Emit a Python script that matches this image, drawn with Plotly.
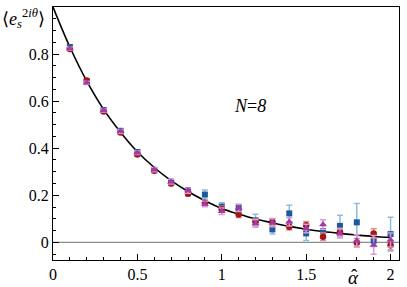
import plotly.graph_objects as go

alpha = [0.1, 0.2, 0.3, 0.4, 0.5, 0.6, 0.7, 0.8, 0.9, 1.0,
         1.1, 1.2, 1.3, 1.4, 1.5, 1.6, 1.7, 1.8, 1.9, 2.0]

blue_y = [0.830, 0.683, 0.562, 0.474, 0.384, 0.308, 0.257, 0.222, 0.203, 0.152,
          0.146, 0.094, 0.055, 0.123, 0.038, 0.048, 0.070, 0.085, 0.007, 0.035]
blue_err = [0.008, 0.008, 0.008, 0.008, 0.008, 0.008, 0.010, 0.010, 0.019, 0.016,
            0.016, 0.025, 0.020, 0.035, 0.030, 0.025, 0.045, 0.080, 0.025, 0.072]

red_y = [0.822, 0.688, 0.556, 0.467, 0.373, 0.304, 0.250, 0.207, 0.168, 0.141,
         0.118, 0.087, 0.087, 0.066, 0.073, 0.024, 0.044, -0.002, 0.038, -0.012]
red_err = [0.006, 0.006, 0.006, 0.007, 0.007, 0.008, 0.008, 0.009, 0.010, 0.012,
           0.012, 0.014, 0.014, 0.014, 0.016, 0.016, 0.016, 0.018, 0.020, 0.020]

purple_y = [0.823, 0.678, 0.560, 0.472, 0.381, 0.309, 0.258, 0.220, 0.163, 0.132,
            0.146, 0.080, 0.083, 0.087, 0.059, 0.076, 0.038, 0.007, -0.011, 0.010]
purple_err = [0.007, 0.007, 0.007, 0.008, 0.008, 0.009, 0.010, 0.011, 0.012, 0.014,
              0.015, 0.016, 0.017, 0.018, 0.018, 0.020, 0.020, 0.025, 0.040, 0.030]

curve_x = [0.0, 0.1, 0.2, 0.3, 0.4, 0.5, 0.6, 0.7, 0.8, 0.9, 1.0,
           1.1, 1.2, 1.3, 1.4, 1.5, 1.6, 1.7, 1.8, 1.9, 2.0]
curve_y = [1.0, 0.830, 0.685, 0.565, 0.468, 0.385, 0.318, 0.262, 0.216, 0.177, 0.144,
           0.120, 0.099, 0.083, 0.068, 0.056, 0.046, 0.038, 0.031, 0.025, 0.021]

x_ticks = [0, 0.5, 1, 1.5, 2]
x_labels = ["0", "0.5", "1", "1.5", "2"]
y_ticks = [0, 0.2, 0.4, 0.6, 0.8, 1]
y_labels = ["0", "0.2", "0.4", "0.6", "0.8", "1"]

FONT = "'Liberation Serif', 'DejaVu Serif', serif"

fig = go.Figure()

# zero line
fig.add_trace(go.Scatter(x=[0, 2.05], y=[0, 0], mode="lines",
                         line=dict(color="#8c8c8c", width=1.2),
                         showlegend=False, hoverinfo="skip"))

fig.add_trace(go.Scatter(x=curve_x, y=curve_y, mode="lines",
                         line=dict(color="black", width=1.6, shape="spline"),
                         showlegend=False))

def series(y, err, color, ecolor, symbol, size):
    return go.Scatter(x=alpha, y=y, mode="markers",
                      marker=dict(color=color, symbol=symbol, size=size,
                                  line=dict(width=0)),
                      error_y=dict(type="data", array=err, visible=True,
                                   color=ecolor, thickness=1.5, width=3),
                      showlegend=False)

fig.add_trace(series(blue_y, blue_err, "#1c5b9b", "#8fbbdc", "square", 6))
fig.add_trace(series(red_y, red_err, "#a31616", "#e08a8a", "circle", 6.5))
fig.add_trace(series(purple_y, purple_err, "#a23ba6", "#d79ad8", "triangle-up", 7))

axis_common = dict(showgrid=False, zeroline=False, showline=True, linecolor="black",
                   linewidth=1.2, mirror=True, ticks="inside", ticklen=6,
                   tickcolor="black", tickwidth=1, automargin=False,
                   tickfont=dict(family=FONT, size=16, color="black"))

fig.update_xaxes(range=[0, 2.05], tickvals=x_ticks, ticktext=x_labels,
                 minor=dict(dtick=0.1, ticks="inside", ticklen=3, tickcolor="black"),
                 **axis_common)
fig.update_yaxes(range=[-0.075, 1.0], tickvals=y_ticks, ticktext=y_labels,
                 minor=dict(dtick=0.05, ticks="inside", ticklen=3, tickcolor="black"),
                 **axis_common)

# x-axis label: alpha with hat
fig.add_annotation(x=1.78, y=0, xref="x", yref="paper", yshift=-5,
                   text="<i>α</i>", showarrow=False, yanchor="top",
                   font=dict(family=FONT, size=19, color="black"))
fig.add_annotation(x=1.785, y=0, xref="x", yref="paper", yshift=-3,
                   text="ˆ", showarrow=False, yanchor="top",
                   font=dict(family=FONT, size=19, color="black"))
fig.add_annotation(x=0.0, y=1.0, xref="paper", yref="paper", xshift=-53, yshift=3,
                   xanchor="left", yanchor="top",
                   text="⟨<i>e</i><sub><i>s</i></sub><sup>2<i>iθ</i></sup>⟩", showarrow=False,
                   font=dict(family=FONT, size=18, color="black"))
fig.add_annotation(x=1.17, y=0.58, xref="x", yref="y", xanchor="center",
                   text="<i>N</i>=<i>8</i>", showarrow=False,
                   font=dict(family=FONT, size=18, color="black"))

fig.update_layout(width=407, height=287,
                  margin=dict(l=53, r=8, t=7, b=27),
                  paper_bgcolor="white", plot_bgcolor="white",
                  font=dict(family=FONT))

fig.write_html("out.html", config={"displayModeBar": False},
               post_script="document.body.style.margin='0';document.body.style.overflow='hidden';")
